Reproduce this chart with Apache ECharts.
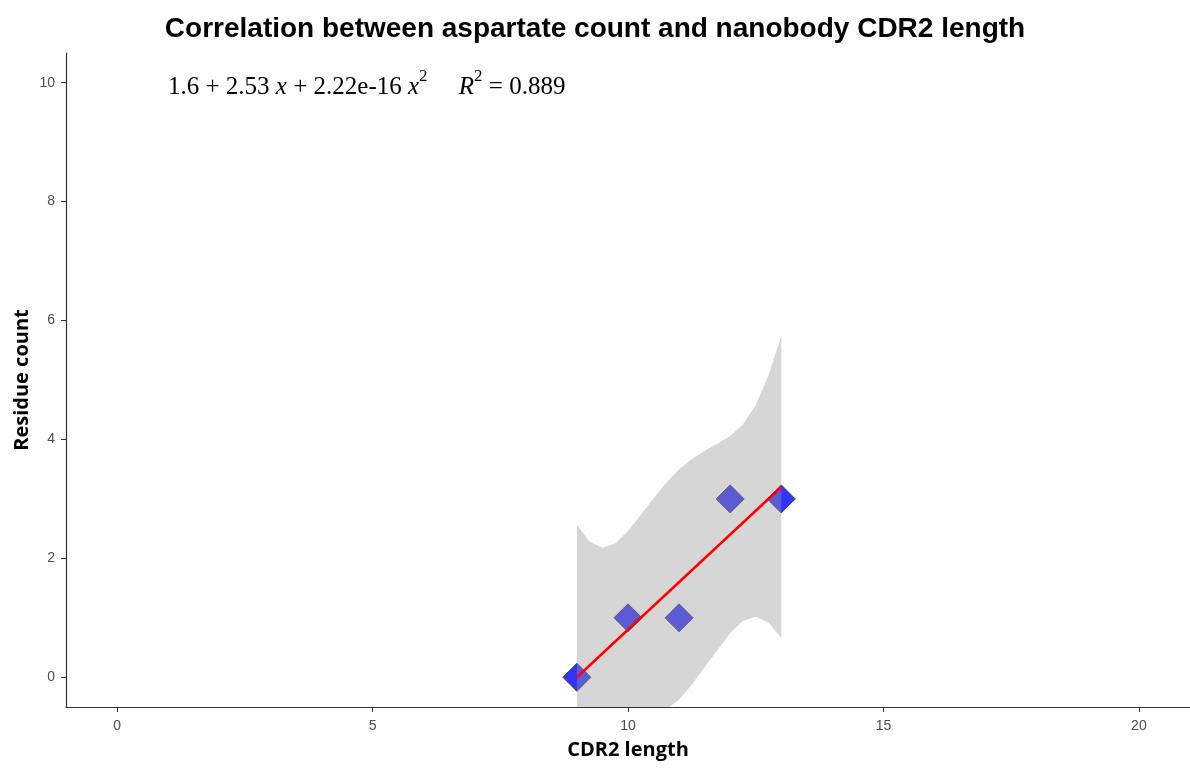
<!DOCTYPE html>
<html>
<head>
<meta charset="utf-8">
<script src="https://cdn.jsdelivr.net/npm/echarts@6/dist/echarts.min.js"></script>
<style>
html,body{margin:0;padding:0;background:#fff;}
#chart{width:1190px;height:769px;}
</style>
</head>
<body>
<div id="chart"></div>
<script>
// Observed data points
const cdr2Length = [9, 10, 11, 12, 13];
const residueCount = [0, 1, 1, 3, 3];

// Fitted line
const fitX = [9, 13];
const fitY = [0, 3.2];

// Confidence band
const bandX = [9, 9.25, 9.5, 9.75, 10, 10.25, 10.5, 10.75, 11, 11.25, 11.5, 11.75, 12, 12.25, 12.5, 12.75, 13];
const bandUpper = [2.56, 2.28, 2.18, 2.25, 2.46, 2.73, 3.01, 3.27, 3.50, 3.67, 3.81, 3.93, 4.06, 4.25, 4.58, 5.08, 5.74];
const bandLower = [-2.56, -1.88, -1.38, -1.05, -0.88, -0.76, -0.66, -0.54, -0.38, -0.12, 0.17, 0.46, 0.74, 0.95, 1.02, 0.92, 0.66];

// Tick labels
const xTicks = [0, 5, 10, 15, 20];
const yTicks = [0, 2, 4, 6, 8, 10];

const chart = echarts.init(document.getElementById('chart'));

const serif = '"Liberation Serif", "Times New Roman", serif';

const option = {
  backgroundColor: '#ffffff',
  animation: false,
  title: {
    text: 'Correlation between aspartate count and nanobody CDR2 length',
    left: 'center',
    top: 10,
    textStyle: {
      fontFamily: '"Liberation Sans", Arial, sans-serif',
      fontWeight: 'bold',
      fontSize: 28,
      color: '#000'
    }
  },
  graphic: [{
    type: 'text',
    left: 168,
    top: 68,
    style: {
      text: '{n|1.6 + 2.53 }{i|x}{n| + 2.22e-16 }{i|x}{s|2}{n|     }{i|R}{s|2}{n| = 0.889}',
      rich: {
        n: { fontFamily: serif, fontSize: 25, color: '#000', lineHeight: 32, verticalAlign: 'bottom' },
        i: { fontFamily: serif, fontStyle: 'italic', fontSize: 25, color: '#000', lineHeight: 32, verticalAlign: 'bottom' },
        s: { fontFamily: serif, fontSize: 17, color: '#000', lineHeight: 32, verticalAlign: 'top' }
      }
    }
  }],
  grid: {
    left: 66,
    width: 1129,
    top: 53,
    bottom: 62,
    containLabel: false
  },
  xAxis: {
    type: 'value',
    min: -1,
    max: 21,
    name: 'CDR2 length',
    nameLocation: 'middle',
    nameGap: 33,
    nameTextStyle: {
      fontFamily: '"Open Sans", "Noto Sans", sans-serif',
      fontWeight: 'bold',
      fontSize: 20,
      color: '#000'
    },
    axisLine: { show: true, onZero: false, lineStyle: { color: '#333', width: 1.2 } },
    axisTick: { show: true, length: 5, customValues: xTicks, lineStyle: { color: '#333' } },
    axisLabel: {
      customValues: xTicks,
      color: '#4d4d4d',
      fontFamily: '"Liberation Sans", Arial, sans-serif',
      fontSize: 14,
      margin: 12
    },
    splitLine: { show: false }
  },
  yAxis: {
    type: 'value',
    min: -0.5,
    max: 10.5,
    name: 'Residue count',
    nameLocation: 'middle',
    nameRotate: 90,
    nameGap: 34,
    nameMoveOverlap: false,
    nameTextStyle: {
      fontFamily: '"Open Sans", "Noto Sans", sans-serif',
      fontWeight: 'bold',
      fontSize: 20,
      color: '#000'
    },
    axisLine: { show: true, onZero: false, lineStyle: { color: '#333', width: 1.2 } },
    axisTick: { show: true, length: 5, customValues: yTicks, lineStyle: { color: '#333' } },
    axisLabel: {
      customValues: yTicks,
      color: '#4d4d4d',
      fontFamily: '"Liberation Sans", Arial, sans-serif',
      fontSize: 14,
      margin: 11
    },
    splitLine: { show: false }
  },
  series: [
    {
      type: 'scatter',
      z: 1,
      data: cdr2Length.map((x, i) => [x, residueCount[i]]),
      symbol: 'diamond',
      symbolSize: 28,
      itemStyle: {
        color: 'rgba(0,0,255,0.8)',
        opacity: 1,
        borderColor: '#3a3a4a',
        borderWidth: 1
      }
    },
    {
      type: 'custom',
      z: 2,
      clip: true,
      data: [0],
      renderItem: function (params, api) {
        const pts = [];
        for (let i = 0; i < bandX.length; i++) pts.push(api.coord([bandX[i], bandUpper[i]]));
        for (let i = bandX.length - 1; i >= 0; i--) pts.push(api.coord([bandX[i], bandLower[i]]));
        return {
          type: 'polygon',
          shape: { points: pts },
          style: { fill: 'rgba(153,153,153,0.4)', stroke: null }
        };
      }
    },
    {
      type: 'line',
      z: 3,
      data: fitX.map((x, i) => [x, fitY[i]]),
      showSymbol: false,
      lineStyle: { color: '#ff0000', width: 2.5 }
    }
  ]
};

chart.setOption(option);
</script>
</body>
</html>
